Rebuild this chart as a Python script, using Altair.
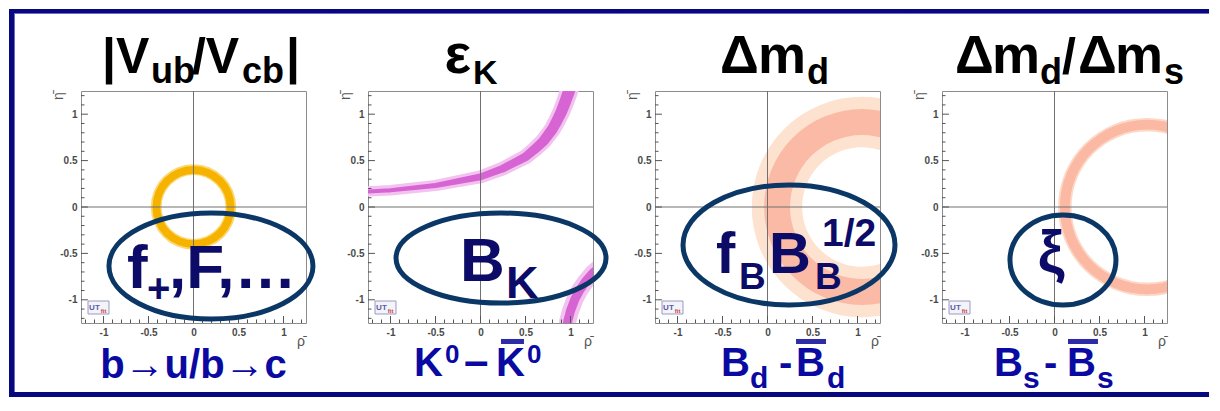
import altair as alt
import pandas as pd

# ------------------------------------------------------------------ data
axis_values = [-1, -0.5, 0, 0.5, 1]
minor_ticks = [-1.2, -1.1, -0.9, -0.8, -0.7, -0.6, -0.4, -0.3, -0.2, -0.1,
               0.1, 0.2, 0.3, 0.4, 0.6, 0.7, 0.8, 0.9, 1.1, 1.2]

# |Vub/Vcb| ring (centre rho, eta ; radii of light and dark bands)
vub_center = [0.0, 0.0]
vub_light = [0.355, 0.475]
vub_dark = [0.37, 0.455]

# eps_K hyperbola bands (centre line and width, in rho/eta units)
epsk_up_rho = [-1.3, -1.0, -0.5, 0.0, 0.25, 0.5, 0.6, 0.7, 0.8, 0.85, 0.9, 0.94, 0.98, 1.02]
epsk_up_eta = [0.165, 0.18, 0.232, 0.325, 0.415, 0.54, 0.62, 0.71, 0.84, 0.93, 1.03, 1.13, 1.24, 1.36]
epsk_up_w = [0.044, 0.046, 0.055, 0.075, 0.085, 0.097, 0.105, 0.112, 0.118, 0.122, 0.126, 0.13, 0.133, 0.133]
epsk_lo_rho = [0.95, 0.97, 1.0, 1.05, 1.1, 1.17, 1.25, 1.32]
epsk_lo_eta = [-1.35, -1.23, -1.12, -0.99, -0.9, -0.8, -0.71, -0.65]
epsk_lo_w = [0.1, 0.1, 0.1, 0.1, 0.1, 0.1, 0.1, 0.1]

# Delta m_d ring
dmd_center = [1.05, 0.0]
dmd_light = [0.665, 1.225]
dmd_dark = [0.80, 1.088]

# Delta m_d / Delta m_s ring
dms_center = [1.03, 0.0]
dms_light = [0.84, 0.99]
dms_dark = [0.86, 0.97]

# text pieces: (text, rho, eta, font size)
title_pieces = [
    [("|V", -1.017, 1.444, 50), ("ub", -0.472, 1.336, 36), ("/V", -0.017, 1.444, 50),
     ("cb", 0.539, 1.336, 36), ("|", 1.028, 1.444, 50)],
    [("ε", -0.40, 1.444, 56), ("K", -0.083, 1.325, 34)],
    [("Δ", -0.528, 1.444, 54), ("m", -0.106, 1.444, 54), ("d", 0.439, 1.325, 36)],
    [("Δ", -1.106, 1.444, 54), ("m", -0.694, 1.444, 54), ("d", -0.161, 1.325, 36),
     ("/", 0.083, 1.444, 50), ("Δ", 0.261, 1.444, 54), ("m", 0.672, 1.444, 54),
     ("s", 1.217, 1.325, 36)],
]
bottom_pieces = [
    [],
    [("K", -0.739, -1.821, 40), ("0", -0.394, -1.681, 26), ("–", -0.183, -1.821, 44),
     ("K", 0.172, -1.821, 40), ("0", 0.517, -1.681, 26)],
    [("B", -0.517, -1.821, 40), ("d", -0.194, -1.95, 30), ("-", 0.128, -1.821, 40),
     ("B", 0.317, -1.821, 40), ("d", 0.661, -1.95, 30)],
    [("B", -0.672, -1.821, 40), ("s", -0.35, -1.95, 30), ("-", -0.117, -1.821, 40),
     ("B", 0.139, -1.821, 40), ("s", 0.472, -1.95, 30)],
]
bottom_centered = ["b→u/b→c", None, None, None]
overbars = [None, (0.228, 0.483), (0.317, 0.65), (0.15, 0.483)]
ellipse_pieces = [
    [("f", -0.739, -0.873, 62), ("+", -0.517, -1.02, 40), (",F,…", -0.272, -0.873, 62)],
    [("B", -0.228, -0.797, 62), ("K", 0.283, -0.981, 45)],
    [("f", -0.572, -0.711, 58), ("B", -0.317, -0.884, 37), ("B", 0.017, -0.711, 58),
     ("B", 0.528, -0.884, 37), ("1/2", 0.606, -0.42, 39)],
    [],
]
ellipse_centered = [None, None, None, ("ξ", -0.039, -0.70, 60)]
# ellipse centres (rho, eta) and half axes (px)
ellipse_rho = [0.194, 0.228, 0.239, 0.094]
ellipse_eta = [-0.636, -0.55, -0.409, -0.571]
ellipse_rx = [102, 105, 106, 53]
ellipse_ry = [53, 45, 60, 45]

# ------------------------------------------------------------------ style
FONT = "Liberation Sans, Arial, sans-serif"
FRAME = "#07077e"
FRAME_EDGE = "#6b6bcc"
BLUE = "#0a0aa2"
ELL = "#0b3766"
ELL_TEXT = "#0c0c68"
W, H = 225, 232

XS = alt.Scale(domain=[-1.25, 1.25], nice=False, zero=False)
YS = alt.Scale(domain=[-1.25, 1.25], nice=False, zero=False)
WSCALE = alt.Scale(type="linear", domain=[0, 2.5], range=[0, 225])
RSCALE = alt.Scale(type="linear", domain=[0, 2.5], range=[0, 225])

axis_style = dict(values=axis_values, labelExpr="'' + datum.value", ticks=False,
                  domain=False, grid=False, labelFontSize=10, labelFont=FONT,
                  labelFontWeight="bold", labelColor="#4a4a4a", labelOverlap=False,
                  labelPadding=4, title="")
AX = alt.Axis(**axis_style)
AY = alt.Axis(**axis_style)


def X(f):
    return alt.X(f, type="quantitative", scale=XS, axis=AX)


def Y(f):
    return alt.Y(f, type="quantitative", scale=YS, axis=AY)


def ring(center, radii, color):
    df = pd.DataFrame({"x": [center[0]], "y": [center[1]], "r1": [radii[0]], "r2": [radii[1]]})
    return alt.Chart(df).mark_arc(clip=True, color=color, theta=0, theta2=6.2832).encode(
        x=X("x"), y=Y("y"),
        radius=alt.Radius("r2:Q", scale=RSCALE), radius2=alt.Radius2("r1:Q"))


def trail(rho, eta, width, color, extra=0.0):
    df = pd.DataFrame({"x": rho, "y": eta, "w": [w + extra for w in width],
                       "i": list(range(len(rho)))})
    return alt.Chart(df).mark_trail(clip=True, color=color).encode(
        x=X("x"), y=Y("y"), size=alt.Size("w:Q", scale=WSCALE, legend=None),
        order=alt.Order("i:Q"))


def text(t, x, y, size, color, align="left", angle=0, weight="bold"):
    df = pd.DataFrame({"x": [x], "y": [y], "t": [t]})
    return alt.Chart(df).mark_text(align=align, baseline="alphabetic", fontSize=size,
                                   font=FONT, fontWeight=weight, color=color,
                                   angle=angle).encode(x=X("x"), y=Y("y"), text="t:N")


def rect(x1, x2, y1, y2, color, stroke=None):
    df = pd.DataFrame({"x1": [x1], "x2": [x2], "y1": [y1], "y2": [y2]})
    kw = {"color": color, "strokeWidth": 0}
    if stroke:
        kw.update(stroke=stroke, strokeWidth=1)
    return alt.Chart(df).mark_rect(**kw).encode(
        x=X("x1"), x2=alt.X2("x2:Q"), y=Y("y1"), y2=alt.Y2("y2:Q"))


def ellipse_path(b):
    k = 0.5523
    return (f"M1,0 C1,{k*b:.4f} {k},{b:.4f} 0,{b:.4f} C{-k},{b:.4f} -1,{k*b:.4f} -1,0 "
            f"C-1,{-k*b:.4f} {-k},{-b:.4f} 0,{-b:.4f} C{k},{-b:.4f} 1,{-k*b:.4f} 1,0 Z")


def panel(p):
    layers = []
    # bands
    if p == 0:
        layers += [ring(vub_center, vub_light, "#fcd66e"), ring(vub_center, vub_dark, "#f5b300")]
    elif p == 1:
        layers += [trail(epsk_up_rho, epsk_up_eta, epsk_up_w, "#f2c3ef", 0.07),
                   trail(epsk_up_rho, epsk_up_eta, epsk_up_w, "#d764d3"),
                   trail(epsk_lo_rho, epsk_lo_eta, epsk_lo_w, "#f2c3ef", 0.09),
                   trail(epsk_lo_rho, epsk_lo_eta, epsk_lo_w, "#d764d3")]
    elif p == 2:
        layers += [ring(dmd_center, dmd_light, "#fde2cf"), ring(dmd_center, dmd_dark, "#fbbaa5")]
    else:
        layers += [ring(dms_center, dms_light, "#fdd8c8"), ring(dms_center, dms_dark, "#fbb8a2")]

    # zero lines
    z = pd.DataFrame({"x": [0.0], "y": [0.0]})
    layers.append(alt.Chart(z).mark_rule(color="#707070", strokeWidth=1).encode(x=X("x")))
    layers.append(alt.Chart(z).mark_rule(color="#707070", strokeWidth=1).encode(y=Y("y")))

    # inward ticks
    for vals, ln in ((axis_values, 0.075), (minor_ticks, 0.038)):
        bt = pd.DataFrame({"x": vals, "y": [-1.25] * len(vals), "y2": [-1.25 + ln] * len(vals)})
        layers.append(alt.Chart(bt).mark_rule(color="#555555", strokeWidth=1).encode(
            x=X("x"), y=Y("y"), y2=alt.Y2("y2:Q")))
        lt = pd.DataFrame({"y": vals, "x": [-1.25] * len(vals), "x2": [-1.25 + ln * 1.03] * len(vals)})
        layers.append(alt.Chart(lt).mark_rule(color="#555555", strokeWidth=1).encode(
            y=Y("y"), x=X("x"), x2=alt.X2("x2:Q")))

    # axis titles
    layers.append(text("ρ̄", 1.194, -1.498, 14, "#555555", align="center", weight="normal"))
    layers.append(text("η̄", -1.445, 1.196, 14, "#555555", align="center", angle=270,
                       weight="normal"))

    # UTfit logo
    layers.append(rect(-1.172, -0.939, -1.153, -1.013, "#f3f3fa", stroke="#9a9ac0"))
    layers.append(text("UT", -1.16, -1.11, 8, "#5a5aa8"))
    layers.append(text("fit", -1.03, -1.14, 6, "#d04040"))

    # ellipse + text inside
    rx, ry = ellipse_rx[p], ellipse_ry[p]
    ed = pd.DataFrame({"x": [ellipse_rho[p]], "y": [ellipse_eta[p]]})
    layers.append(alt.Chart(ed).mark_point(shape=ellipse_path(ry / rx), size=(2 * rx) ** 2,
                                           filled=False, color=ELL, stroke=ELL, strokeWidth=5,
                                           opacity=1).encode(x=X("x"), y=Y("y")))
    for t, x, y, s in ellipse_pieces[p]:
        layers.append(text(t, x, y, s, ELL_TEXT))
    if ellipse_centered[p]:
        t, x, y, s = ellipse_centered[p]
        layers.append(text(t, x, y, s, ELL_TEXT, align="center"))

    # titles
    for t, x, y, s in title_pieces[p]:
        layers.append(text(t, x, y, s, "#000000"))

    # bottom labels
    if bottom_centered[p]:
        layers.append(text(bottom_centered[p], 0.0, -1.843, 40, BLUE, align="center"))
    for t, x, y, s in bottom_pieces[p]:
        layers.append(text(t, x, y, s, BLUE))
    if overbars[p]:
        x1, x2 = overbars[p]
        layers.append(rect(x1, x2, -1.476, -1.422, "#2c2ca8"))

    # slide frame (navy): top and bottom bars, left bar on the first panel
    left = -2.05 if p == 0 else -1.61
    right = 1.717 if p == 3 else 1.61
    layers.append(rect(left, right, 2.0905, 2.1336, FRAME))
    layers.append(rect(left + (0.0556 if p == 0 else 0), right, 2.0797, 2.0905, FRAME_EDGE))
    layers.append(rect(left, right, -2.047, -1.993, FRAME))
    if p == 0:
        layers.append(rect(-2.05, -1.9944, -2.047, 2.1336, FRAME))
        layers.append(rect(-1.9944, -1.9833, -1.993, 2.0797, FRAME_EDGE))

    return alt.layer(*layers).properties(width=W, height=H)


chart = alt.hconcat(*[panel(p) for p in range(4)], spacing=62, bounds="flush").properties(
    padding=0, background="white"
).configure_view(stroke="#8c8c8c", strokeWidth=1)

chart.save("out.html", embed_options={"renderer": "svg", "actions": False})
